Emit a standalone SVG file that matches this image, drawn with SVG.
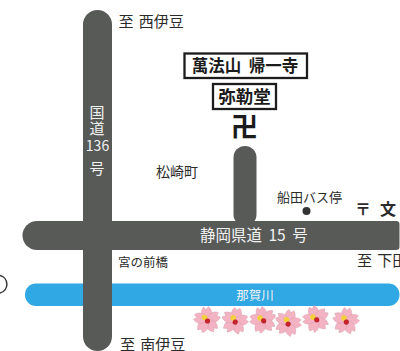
<svg xmlns="http://www.w3.org/2000/svg" width="400" height="351" viewBox="0 0 400 351">
<style>
text{font-family:"Noto Sans CJK JP","Noto Sans",sans-serif;fill:#2b2b2b}
.w{fill:#f2f2f2}
.s{font-family:"Noto Sans CJK JP",serif;font-weight:700;fill:#1c1c1c}
.box{fill:#fff;stroke:#1c1c1c;stroke-width:2.300}
.road{fill:#585a58}
.pet{fill:#f3b3c3;stroke:#d8a0ae;stroke-width:.5}
</style>
<defs>
<path id="petal" class="pet" d="M0 1C-6-3-7-9-3.500-13L-1-10.500 1.500-13.500C6-9 6-3 0 1Z"/>
<g id="flower">
<use href="#petal"/>
<use href="#petal" transform="rotate(72)"/>
<use href="#petal" transform="rotate(144)"/>
<use href="#petal" transform="rotate(216)"/>
<use href="#petal" transform="rotate(288)"/>
<circle cx="-2.500" cy="-2.500" r="2.800" fill="#f4d13c"/>
<circle cx="0.500" cy="1" r="2.600" fill="#c4242c"/>
</g>
</defs>
<rect width="400" height="351" fill="#fff"/>
<g id="river"><rect x="25" y="283.500" width="374.500" height="22.500" rx="11" fill="#2fa8e4"/>
<text class="w" x="255" y="300" font-size="12.500" text-anchor="middle">那賀川</text></g>
<g id="connectors">
<rect class="road" x="233.500" y="146" width="23" height="80" rx="11.500"/>
<path class="road" d="M37 221H396Q399.500 221 399.500 224V247Q399.500 250 396 250H37A14.500 14.500 0 0 1 37 221Z"/>
<rect class="road" x="83" y="10" width="29" height="341" rx="14.500"/>
</g>
<g id="route136">
<text class="w" font-size="15" text-anchor="middle"><tspan x="97" y="118">国</tspan><tspan x="97" y="134">道</tspan><tspan x="97.500" y="151" font-size="14">136</tspan><tspan x="97" y="174">号</tspan></text>
</g>
<g id="route15"><text class="w" x="200" y="241" font-size="15.500" word-spacing="3">静岡県道 15 号</text></g>
<g id="temple">
<rect class="box" x="184.500" y="53.500" width="122.500" height="24.500"/>
<text class="s" x="245" y="71.500" font-size="16.500" text-anchor="middle" word-spacing="4">萬法山 帰一寺</text>
<rect class="box" x="213" y="84" width="63" height="25"/>
<text class="s" x="244.500" y="103" font-size="17.500" text-anchor="middle">弥勒堂</text>
<text class="s" x="244.500" y="137" font-size="27" text-anchor="middle">卍</text>
</g>
<g id="labels">
<text x="118.500" y="27" font-size="15" word-spacing="2">至 西伊豆</text>
<text x="156" y="177" font-size="14">松崎町</text>
<text x="277" y="202" font-size="13">船田バス停</text>
<circle cx="306.500" cy="211" r="4" fill="#333"/>
<text x="355" y="215" font-size="16" font-weight="700" fill="#222">〒<tspan x="380">文</tspan></text>
<text x="357" y="266" font-size="15" word-spacing="2">至 下田</text>
<text x="118" y="267" font-size="12.500">宮の前橋</text>
<text x="120" y="350" font-size="15" word-spacing="2">至 南伊豆</text>
</g>
<path d="M0 275.500A9 9 0 0 1 0 293" fill="none" stroke="#333" stroke-width="1.500"/>
<g id="blossoms">
<use href="#flower" x="207" y="320"/>
<use href="#flower" x="235" y="321" transform="rotate(15 235 321)"/>
<use href="#flower" x="263" y="320" transform="rotate(-10 263 320)"/>
<use href="#flower" x="288" y="323" transform="rotate(20 288 323)"/>
<use href="#flower" x="316" y="319" transform="rotate(-15 316 319)"/>
<use href="#flower" x="346" y="321" transform="rotate(10 346 321)"/>
</g>
</svg>
